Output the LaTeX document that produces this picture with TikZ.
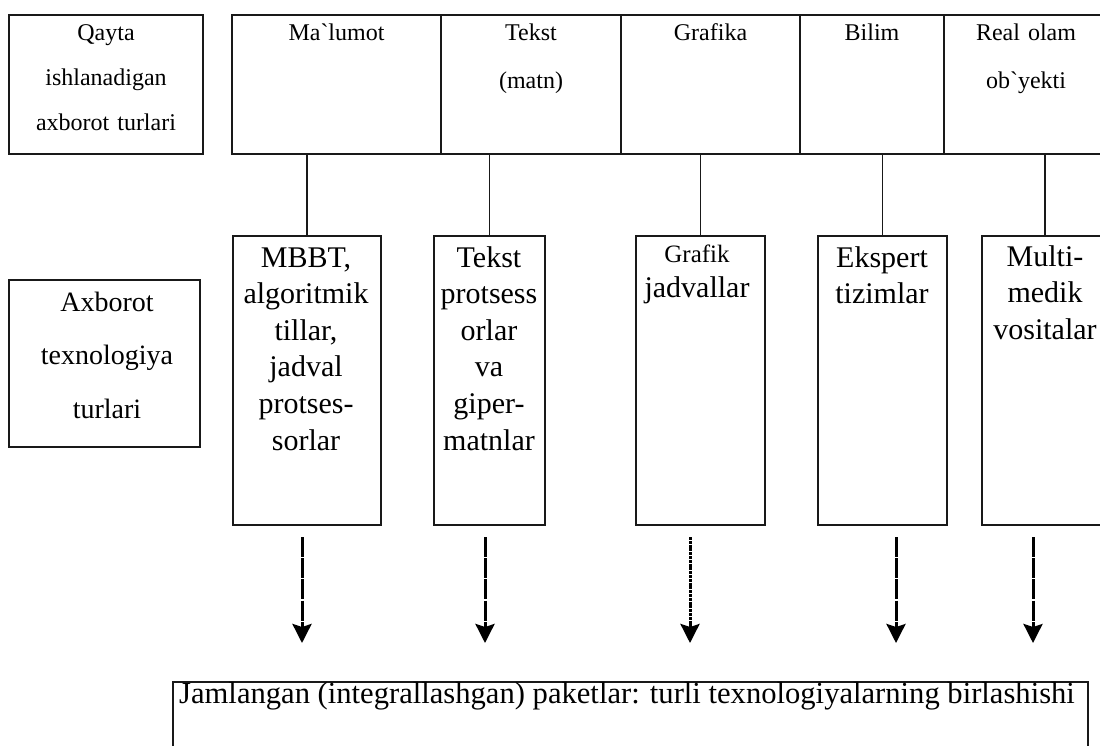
\documentclass[tikz,border=0pt]{standalone}
\usepackage{fontspec}
\setmainfont{Liberation Serif}
\usetikzlibrary{arrows.meta}
\begin{document}
\begin{tikzpicture}[x=1pt,y=-1pt,
  frame/.style={draw=black!90, line width=1.6pt, inner sep=0pt},
  link/.style={draw=black!90, line width=1.5pt},
  headtxt/.style={anchor=base, inner sep=0pt, text width=190pt, align=center,
    font=\fontsize{24}{#1}\selectfont},
  bigtxt/.style={anchor=base, inner sep=0pt, text width=190pt, align=center,
    font=\fontsize{30}{#1}\selectfont},
  flow/.style={draw=black, line width=3pt, dash pattern=on 20pt off 1.2pt,
    -{Stealth[length=19pt,width=19pt,inset=3pt]}},
  flowdense/.style={flow, dash pattern=on 3pt off 0.8pt}
]
\useasboundingbox (0,0) rectangle (1100,745);
\clip (0,0) rectangle (1100,745);

% left-hand captions
\node[frame, minimum width=194pt, minimum height=139pt] (q) at (106,84.5) {};
\node[headtxt=45pt] (qt) at (106,40) {Qayta\\ishlanadigan\\axborot turlari};
\node[frame, minimum width=191pt, minimum height=167pt] (l) at (104.5,363.5) {};
\node[bigtxt=53.5pt, font=\fontsize{28}{53.5}\selectfont] (lt) at (107,311) {Axborot\\texnologiya\\turlari};

% row of information kinds
\node[frame, minimum width=209pt, minimum height=139pt] (c1) at (336.5,84.5) {};
\node[frame, minimum width=180pt, minimum height=139pt] (c2) at (531,84.5) {};
\node[frame, minimum width=179pt, minimum height=139pt] (c3) at (710.5,84.5) {};
\node[frame, minimum width=144pt, minimum height=139pt] (c4) at (872,84.5) {};
\node[frame, minimum width=168pt, minimum height=139pt] (c5) at (1028,84.5) {};
\node[headtxt=48pt] (c1t) at (336.5,40) {Ma\textasciigrave lumot};
\node[headtxt=48pt] (c2t) at (531,40) {Tekst\\(matn)};
\node[headtxt=48pt] (c3t) at (710.5,40) {Grafika};
\node[headtxt=48pt] (c4t) at (872,40) {Bilim};
\node[headtxt=48pt] (c5t) at (1026,40) {Real olam\\ob\textasciigrave yekti};

% technology boxes
\node[frame, minimum width=148pt, minimum height=289pt] (m1) at (307,380.5) {};
\node[frame, minimum width=111pt, minimum height=289pt] (m2) at (489.5,380.5) {};
\node[frame, minimum width=129pt, minimum height=289pt] (m3) at (700.5,380.5) {};
\node[frame, minimum width=129pt, minimum height=289pt] (m4) at (882.5,380.5) {};
\node[frame, minimum width=126pt, minimum height=289pt] (m5) at (1045,380.5) {};
\node[bigtxt=36.6pt] (m1t) at (306,267) {MBBT,\\algoritmik\\tillar,\\jadval\\protses-\\sorlar};
\node[bigtxt=36.6pt] (m2t) at (489,267) {Tekst\\protsess\\orlar\\va\\giper-\\matnlar};
\node[bigtxt=35pt] (m3t) at (697,262) {{\fontsize{25}{35}\selectfont Grafik}\\jadvallar};
\node[bigtxt=36.6pt] (m4t) at (882,267) {Ekspert\\tizimlar};
\node[bigtxt=36.6pt] (m5t) at (1045,266) {Multi-\\medik\\vositalar};

% links from kinds to technologies
\draw[link] (m1.north) -- (m1.north |- c1.south);
\draw[link] (m2.north) -- (m2.north |- c2.south);
\draw[link] (m3.north) -- (m3.north |- c3.south);
\draw[link] (m4.north) -- (m4.north |- c4.south);
\draw[link] (m5.north) -- (m5.north |- c5.south);

% integrated packages
\node[frame, minimum width=915pt, minimum height=88pt] (b) at (630.5,726) {};
\node[anchor=base west, inner sep=0pt, font=\fontsize{30.6}{36}\selectfont] (bt) at (179,703)
  {Jamlangan (integrallashgan) paketlar: turli texnologiyalarning birlashishi};

% dashed flows into the packages box
\coordinate (s1) at (302,537);  \coordinate (e1) at (302,643);
\coordinate (s2) at (485,537);  \coordinate (e2) at (485,643);
\coordinate (s3) at (690,537);  \coordinate (e3) at (690,643);
\coordinate (s4) at (896,537);  \coordinate (e4) at (896,643);
\coordinate (s5) at (1033,537); \coordinate (e5) at (1033,643);
\draw[flow] (s1) -- (e1);
\draw[flow] (s2) -- (e2);
\draw[flowdense] (s3) -- (e3);
\draw[flow] (s4) -- (e4);
\draw[flow] (s5) -- (e5);
\end{tikzpicture}
\end{document}
